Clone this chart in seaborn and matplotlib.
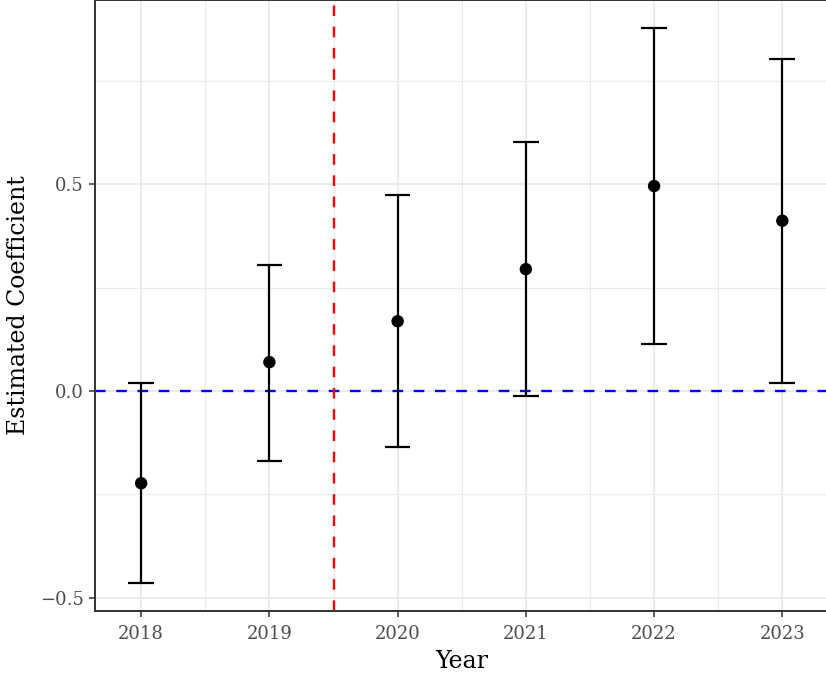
import numpy as np
import pandas as pd
import matplotlib
matplotlib.use('Agg')
import matplotlib.pyplot as plt
import seaborn as sns
from matplotlib.ticker import FixedLocator

# Event-study estimates
years = [2018, 2019, 2020, 2021, 2022, 2023]
estimate = [-0.223, 0.070, 0.169, 0.295, 0.496, 0.412]
ci_low = [-0.465, -0.169, -0.136, -0.012, 0.114, 0.019]
ci_high = [0.019, 0.305, 0.475, 0.603, 0.879, 0.804]
y_ticks = [-0.5, 0.0, 0.5]
y_minor = [-0.25, 0.25, 0.75]
treat_line = 2019.5

df = pd.DataFrame({'Year': years, 'Estimate': estimate, 'Low': ci_low, 'High': ci_high})

sns.set_style('white')
plt.rcParams['font.family'] = ['DejaVu Serif']

fig = plt.figure(figsize=(8.26, 6.75), dpi=100)
ax = fig.add_axes([95 / 826, 64 / 675, 1.0 - 95 / 826 + 0.003, 611 / 675])

# grid like theme_bw
ax.set_axisbelow(True)
ax.xaxis.set_minor_locator(FixedLocator([y + 0.5 for y in years[:-1]]))
ax.yaxis.set_minor_locator(FixedLocator(y_minor))
ax.grid(which='major', color='#EBEBEB', lw=1.4)
ax.grid(which='minor', color='#EBEBEB', lw=0.8)

ax.axhline(0, color='#0000FF', lw=1.7, dashes=(4.5, 4.5), zorder=2)
ax.axvline(treat_line, color='#FF0000', lw=1.7, dashes=(4.5, 4.5), zorder=2)

ax.errorbar(df['Year'], df['Estimate'],
            yerr=[df['Estimate'] - df['Low'], df['High'] - df['Estimate']],
            fmt='none', ecolor='black', elinewidth=1.6, capsize=0, zorder=3)
# caps of width 0.2 in data units
ax.hlines(df['Low'], df['Year'] - 0.1, df['Year'] + 0.1, color='black', lw=1.6, zorder=3)
ax.hlines(df['High'], df['Year'] - 0.1, df['Year'] + 0.1, color='black', lw=1.6, zorder=3)

sns.scatterplot(data=df, x='Year', y='Estimate', ax=ax, color='black', s=80,
                edgecolor='none', zorder=4)

ax.set_xlim(2017.64, 2023.36)
ax.set_ylim(-0.532, 0.946)
ax.set_xticks(years)
ax.set_xticklabels([str(y) for y in years])
ax.set_yticks(y_ticks)

ax.tick_params(which='major', direction='out', length=4, width=1.1, color='#333333',
               labelcolor='#4D4D4D', labelsize=13, left=True, bottom=True, pad=4)
ax.tick_params(axis='x', which='major', pad=6)
ax.tick_params(which='minor', length=0)
for side in ['left', 'bottom', 'top', 'right']:
    ax.spines[side].set_color('#333333')
    ax.spines[side].set_linewidth(1.4)

ax.set_xlabel('Year', fontsize=17, color='black', labelpad=5)
ax.set_ylabel('Estimated Coefficient', fontsize=17, color='black', labelpad=7)

fig.savefig('out.png', dpi=100)
